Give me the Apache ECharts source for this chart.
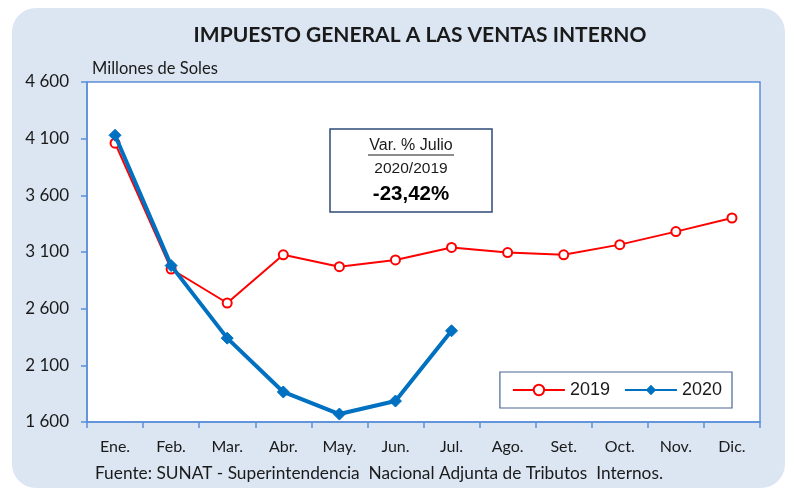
<!DOCTYPE html>
<html>
<head>
<meta charset="utf-8">
<script src="https://cdn.jsdelivr.net/npm/echarts@6/dist/echarts.min.js"></script>
<style>
  html, body { margin: 0; padding: 0; background: #fff; }
  #chart { width: 795px; height: 490px; }
</style>
</head>
<body>
<div id="chart"></div>
<script>
// datos
const months = ['Ene.', 'Feb.', 'Mar.', 'Abr.', 'May.', 'Jun.', 'Jul.', 'Ago.', 'Set.', 'Oct.', 'Nov.', 'Dic.']
const igv2019 = [4060, 2950, 2650, 3075, 2970, 3030, 3140, 3095, 3075, 3165, 3280, 3400]
const igv2020 = [4130, 2980, 2340, 1865, 1670, 1785, 2405]
const yTicks = [1600, 2100, 2600, 3100, 3600, 4100, 4600]

const blue = '#0070C0'
const red = '#FF0000'
const axisBlue = '#5B8FD9'

const option = {
  backgroundColor: '#fff',
  animation: false,
  title: {
    text: 'IMPUESTO GENERAL A LAS VENTAS INTERNO',
    left: 415,
    top: 20,
    textAlign: 'center',
    textStyle: { fontFamily: 'Lato', fontWeight: 'bold', fontSize: 21, color: '#1a1a1a' }
  },
  grid: {
    left: 87, top: 82, right: 35, bottom: 68,
    show: true, backgroundColor: '#fff', borderColor: axisBlue, borderWidth: 1.5,
    containLabel: false
  },
  legend: {
    right: 63, top: 372,
    width: 224, height: 38,
    padding: [9, 10, 9, 12],
    itemGap: 14,
    itemWidth: 52,
    itemHeight: 13,
    borderColor: '#4A6696',
    borderWidth: 1.2,
    backgroundColor: '#fff',
    textStyle: { fontFamily: 'Liberation Sans', fontSize: 18, color: '#1a1a1a' },
    data: ['2019', '2020']
  },
  xAxis: {
    type: 'category',
    data: months,
    boundaryGap: true,
    axisLine: { lineStyle: { color: axisBlue, width: 1.5 } },
    axisTick: { show: true, length: 6, lineStyle: { color: axisBlue, width: 1.5 } },
    axisLabel: { margin: 17, fontFamily: 'Lato', fontSize: 16, color: '#1a1a1a' }
  },
  yAxis: {
    type: 'value',
    min: yTicks[0],
    max: yTicks[yTicks.length - 1],
    interval: 500,
    splitLine: { show: false },
    axisLine: { show: true, lineStyle: { color: axisBlue, width: 1.5 } },
    axisTick: { show: true, length: 6, lineStyle: { color: axisBlue, width: 1.5 } },
    axisLabel: {
      margin: 18, fontFamily: 'Lato', fontSize: 17, color: '#1a1a1a',
      formatter: v => String(v).replace(/\B(?=(\d{3})+(?!\d))/g, ' ')
    }
  },
  series: [{
    name: '2019',
    type: 'line',
    data: igv2019,
    symbol: 'circle',
    symbolSize: 9,
    z: 2,
    lineStyle: { color: red, width: 2 },
    itemStyle: { color: '#fff', borderColor: red, borderWidth: 2 }
  }, {
    name: '2020',
    type: 'line',
    data: igv2020,
    symbol: 'diamond',
    symbolSize: 12,
    z: 3,
    lineStyle: { color: blue, width: 4 },
    itemStyle: { color: blue, borderColor: blue }
  }],
  graphic: [
    {
      type: 'rect', z: -10, silent: true,
      shape: { x: 12, y: 8, width: 773, height: 480, r: 24 },
      style: { fill: '#DCE6F2' }
    },
    {
      type: 'text', left: 92, top: 60,
      style: { text: 'Millones de Soles', fontFamily: 'Lato', fontSize: 16.5, fill: '#1a1a1a' }
    },
    {
      type: 'text', left: 95, top: 465,
      style: { text: 'Fuente: SUNAT - Superintendencia  Nacional Adjunta de Tributos  Internos.', fontFamily: 'Lato', fontSize: 17.3, fill: '#1a1a1a' }
    },
    // cuadro de variacion
    {
      type: 'rect', z: 10,
      shape: { x: 330, y: 129, width: 162, height: 83 },
      style: { fill: '#fff', stroke: '#2F4A7A', lineWidth: 1.5 }
    },
    {
      type: 'text', z: 11, x: 411, y: 138,
      style: { text: 'Var. % Julio', fontFamily: 'Liberation Sans', fontSize: 16, fill: '#1a1a1a', align: 'center' }
    },
    {
      type: 'line', z: 11,
      shape: { x1: 368, y1: 155, x2: 454, y2: 155 },
      style: { stroke: '#1a1a1a', lineWidth: 1 }
    },
    {
      type: 'text', z: 11, x: 411, y: 161,
      style: { text: '2020/2019', fontFamily: 'Liberation Sans', fontSize: 15.5, fill: '#1a1a1a', align: 'center' }
    },
    {
      type: 'text', z: 11, x: 411, y: 184,
      style: { text: '-23,42%', fontFamily: 'Liberation Sans', fontWeight: 'bold', fontSize: 20.5, fill: '#000', align: 'center' }
    }
  ]
}

const chart = echarts.init(document.getElementById('chart'))
chart.setOption(option)
</script>
</body>
</html>
